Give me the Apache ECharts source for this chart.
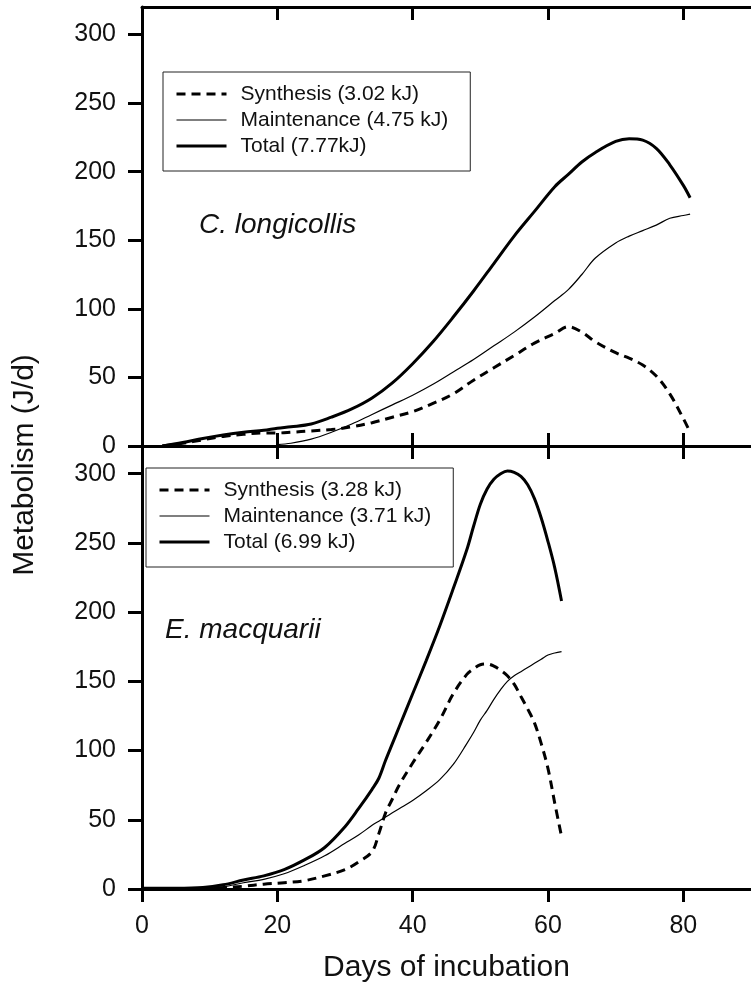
<!DOCTYPE html>
<html><head><meta charset="utf-8">
<script src="https://cdn.jsdelivr.net/npm/echarts@6/dist/echarts.min.js"></script>
<style>html,body{margin:0;padding:0;background:#fff}#c{width:751px;height:987px}</style>
</head><body><div id="c"></div>
<script>
// ---------- data ----------
const xTicks = [0, 20, 40, 60, 80];
const yTicks = [0, 50, 100, 150, 200, 250, 300];
const speciesNames = ['C. longicollis', 'E. macquarii'];
const xTitle = 'Days of incubation';
const yTitle = 'Metabolism (J/d)';

// C. longicollis (top panel)
const topNames = ['Synthesis (3.02 kJ)', 'Maintenance (4.75 kJ)', 'Total (7.77kJ)'];
const topDays = [3,6,9,12,15,18,20,22,25,28,31,34,37,40,43,46,49,52,55,58,61,63,65,67,70,72,74,76,78,80,81];
const topSynthesis = [0,2,4.5,7,8.5,9.5,9.5,10,11,12,14,17,21,25,31,38,48,57,66,75,82,87,83,76,68,64,59,51,38,20,10];
const topMaintenance = [null,null,null,null,null,null,1,2,5,10,16,23,30,37,45,54,63,73,83,94,106,114,125,137,148,153,157,161,166,168,169];
const topTotal = [0,2.5,5.5,8,10,11.5,13,14,16,21,27,35,46,60,76,94,113,133,153,171,189,198,207,214,222,224,223,217,205,190,181];

// E. macquarii (bottom panel)
const botNames = ['Synthesis (3.28 kJ)', 'Maintenance (3.71 kJ)', 'Total (6.99 kJ)'];
const botDays = [0,5,9,12,15,18,21,24,27,30,32,34,35,36,37,38,40,42,44,46,48,49,50,51,52,53,54,55,56,57,58,59,60,61,62];
const botSynthesis = [null,null,0.5,1,2,3.5,4.5,6,9.5,14,19.5,27,40,55,65,75,91,106,122,141,155,159,162,162.5,161,158,154,148,139,130,120,105,87,62,38];
const botMaintenance = [null,null,0.5,1.5,4.5,7,11,17,24,33,39,46,49,52,55,58,64,71,79,90,105,113,122,129,137,144,150,154,157,160,163,166,169,170.5,171.5];
const botTotal = [0.5,0.5,1,3,6.5,9.5,14,21,30,45,58,72,80,93,105,117,141,165,190,217,245,262,278,289,296,300,302,301,298,292,282,268,251,232,208];

// ---------- chart ----------
const FONT = '"Liberation Sans", Arial, sans-serif';
const INK = '#111';
const pairs = (d, v) => d.map((x, i) => [x, v[i]]);

const styles = [
  { width: 3, type: [9, 6] },
  { width: 1.2, type: 'solid' },
  { width: 3, type: 'solid' }
];

const grids = [
  { left: 142, top: 7, width: 616, height: 439 },
  { left: 142, top: 446, width: 616, height: 443 }
];

function xAxis(grid, pos, inside, labels) {
  return {
    type: 'value', gridIndex: grid, position: pos, min: 0, max: 90,
    axisLine: { show: true, onZero: false, lineStyle: { color: '#000', width: 3 } },
    axisTick: { show: true, inside: inside, length: 13, customValues: xTicks, lineStyle: { color: '#000', width: 3 } },
    axisLabel: { show: labels, customValues: xTicks, margin: 25, fontSize: 25, color: INK, fontFamily: FONT },
    splitLine: { show: false },
    name: labels ? xTitle : '', nameLocation: 'middle', nameGap: 64,
    nameTextStyle: { fontSize: 30, color: INK, fontFamily: FONT }
  };
}
function yAxis(grid) {
  return {
    type: 'value', gridIndex: grid, min: 0, max: 320,
    axisLine: { show: true, lineStyle: { color: '#000', width: 3 } },
    axisTick: { show: true, inside: false, length: 14, customValues: yTicks, lineStyle: { color: '#000', width: 3 } },
    axisLabel: { customValues: yTicks, margin: 26, fontSize: 25, color: INK, fontFamily: FONT },
    splitLine: { show: false }
  };
}

function makeSeries(names, days, arrays, xIdx, yIdx) {
  return names.map((n, k) => ({
    name: n, type: 'line', xAxisIndex: xIdx, yAxisIndex: yIdx,
    data: pairs(days, arrays[k]), symbol: 'none', smooth: 0.35,
    lineStyle: Object.assign({ color: '#000' }, styles[k]),
    itemStyle: { color: '#000' }, silent: true, z: 3
  }));
}

function legend(names, left, top) {
  return {
    left: left, top: top, orient: 'vertical', selectedMode: false,
    itemWidth: 50, itemHeight: 14, itemGap: 4,
    padding: [11, 22, 14, 12],
    borderColor: '#222', borderWidth: 1, backgroundColor: '#fff',
    itemStyle: { opacity: 0 },
    textStyle: { fontSize: 21, color: INK, fontFamily: FONT, lineHeight: 22, padding: [0, 0, 0, 9] },
    data: names.map((n, k) => ({ name: n, lineStyle: Object.assign({ color: '#000' }, styles[k]) }))
  };
}

const chart = echarts.init(document.getElementById('c'), null, { renderer: 'canvas' });
chart.setOption({
  animation: false,
  backgroundColor: '#fff',
  grid: grids,
  xAxis: [xAxis(0, 'top', true, false), xAxis(0, 'bottom', true, false), xAxis(1, 'top', true, false), xAxis(1, 'bottom', false, true)],
  yAxis: [yAxis(0), yAxis(1)],
  legend: [legend(topNames, 163, 72), legend(botNames, 146, 468)],
  series: [].concat(
    makeSeries(topNames, topDays, [topSynthesis, topMaintenance, topTotal], 1, 0),
    makeSeries(botNames, botDays, [botSynthesis, botMaintenance, botTotal], 3, 1)
  ),
  graphic: [
    { type: 'text', x: 25, y: 465, rotation: Math.PI / 2,
      style: { text: yTitle, fontSize: 30, fill: INK, fontFamily: FONT, align: 'center', verticalAlign: 'middle' } },
    { type: 'text', x: 199, y: 225,
      style: { text: speciesNames[0], fontSize: 28, fontStyle: 'italic', fill: INK, fontFamily: FONT, align: 'left', verticalAlign: 'middle' } },
    { type: 'text', x: 165, y: 630,
      style: { text: speciesNames[1], fontSize: 28, fontStyle: 'italic', fill: INK, fontFamily: FONT, align: 'left', verticalAlign: 'middle' } }
  ]
});
</script></body></html>
